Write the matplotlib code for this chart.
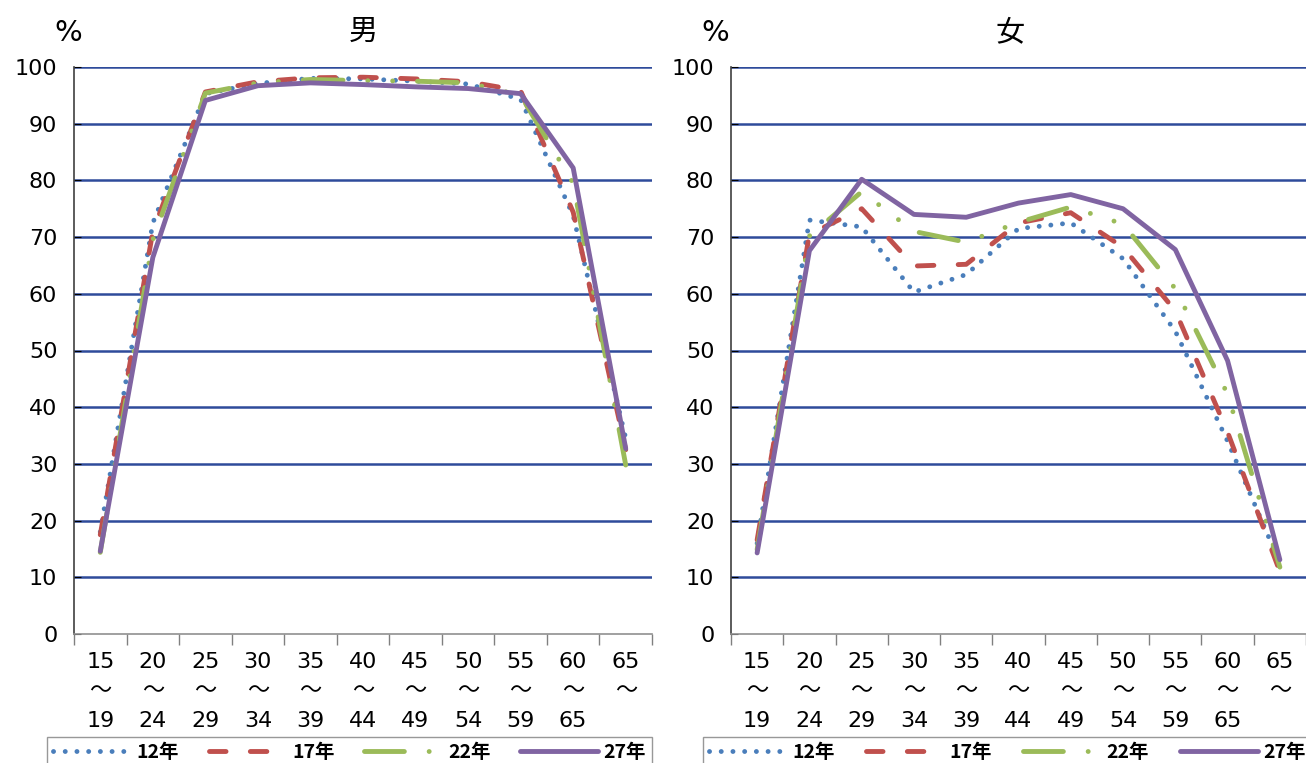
import matplotlib

matplotlib.use("Agg")
import matplotlib.pyplot as plt
from matplotlib.lines import Line2D

plt.rcParams["font.family"] = ["Noto Sans CJK JP", "DejaVu Sans"]

# age groups (x axis)
AGE_FROM = ["15", "20", "25", "30", "35", "40", "45", "50", "55", "60", "65"]
AGE_TO = ["19", "24", "29", "34", "39", "44", "49", "54", "59", "65", ""]

YEARS = ["12年", "17年", "22年", "27年"]

# 男 (%)
MALE_12 = [18.0, 72.5, 95.3, 97.1, 98.0, 97.9, 97.5, 97.0, 94.3, 73.8, 34.5]
MALE_17 = [17.5, 71.0, 95.6, 97.4, 98.1, 98.2, 97.9, 97.4, 95.8, 74.4, 32.5]
MALE_22 = [14.4, 69.5, 95.4, 97.2, 97.8, 97.6, 97.5, 97.2, 95.0, 79.5, 29.8]
MALE_27 = [14.6, 66.4, 94.1, 96.7, 97.2, 96.9, 96.5, 96.2, 95.3, 82.2, 32.7]

# 女 (%)
FEMALE_12 = [16.0, 73.0, 71.8, 60.3, 63.4, 71.5, 72.5, 66.2, 53.4, 34.0, 12.5]
FEMALE_17 = [16.6, 70.5, 75.0, 64.9, 65.2, 72.5, 74.3, 68.2, 57.0, 35.6, 11.0]
FEMALE_22 = [14.9, 70.2, 78.0, 71.0, 69.1, 72.6, 75.3, 72.3, 60.9, 42.3, 11.8]
FEMALE_27 = [14.3, 67.6, 80.2, 74.0, 73.5, 76.0, 77.5, 75.0, 67.8, 48.2, 13.1]

LW = 3.5
STYLES = [
    dict(color="#4A7EBB", linestyle=(0, (0.01, 2.4)), dash_capstyle="round"),
    dict(color="#C0504D", linestyle=(0, (3.4, 5.0)), dash_capstyle="round"),
    dict(color="#9BBB59", linestyle=(0, (8.2, 5.1, 0.01, 5.1, 0.01, 5.1)),
         dash_capstyle="round"),
    dict(color="#8064A2", linestyle="-", solid_capstyle="round"),
]
GRID = "#2E4B9B"
TICK_FONT = ["DejaVu Sans", "Noto Sans CJK JP"]

W, H = 1306, 763


def draw_panel(ax, series, title, pct_x, title_x):
    for vals, st in zip(series, STYLES):
        ax.plot(range(len(vals)), vals, lw=LW, solid_joinstyle="round", **st)

    ax.set_xlim(-0.5, len(AGE_FROM) - 0.5)
    ax.set_ylim(0, 100)
    ax.set_yticks(range(0, 101, 10))
    for y in range(10, 101, 10):
        ax.axhline(y, color=GRID, lw=1.8, zorder=0)

    ax.set_xticks(range(len(AGE_FROM)))
    ax.set_xticklabels([f"{a}\n～\n{b}" for a, b in zip(AGE_FROM, AGE_TO)],
                       linespacing=1.6, va="top")
    ax.set_xticks([i + 0.5 for i in range(-1, len(AGE_FROM))], minor=True)
    ax.tick_params(axis="x", which="major", length=0, pad=13)
    ax.tick_params(axis="x", which="minor", length=8, direction="out",
                   color="#808080", width=1)
    ax.tick_params(axis="y", length=5, direction="in", color="black", pad=12)
    for lab in ax.get_xticklabels() + ax.get_yticklabels():
        lab.set_family(TICK_FONT)
        lab.set_fontsize(16)

    for s in ("top", "right"):
        ax.spines[s].set_visible(False)
    ax.spines["left"].set_color("#404040")
    ax.spines["bottom"].set_color("#909090")
    ax.spines["left"].set_linewidth(1.2)
    ax.spines["bottom"].set_linewidth(1.2)

    fig = ax.figure
    fig.text(pct_x / W, 1 - 33 / H, "%", ha="center", va="center",
             fontsize=21, family=TICK_FONT)
    fig.text(title_x / W, 1 - 32 / H, title, ha="center", va="center", fontsize=21)


def add_legend(ax, x0, x1):
    handles = [Line2D([], [], lw=LW, **st) for st in STYLES]
    leg = ax.legend(
        handles, YEARS, ncol=4, loc="upper left", mode="expand",
        bbox_to_anchor=(x0 / W, 1 - 737 / H - 0.05, (x1 - x0) / W, 0.05),
        bbox_transform=ax.figure.transFigure,
        frameon=True, fancybox=False, edgecolor="#7F7F7F",
        prop=dict(size=14, weight="bold"), handlelength=4.0, handletextpad=0.3,
        borderaxespad=0, borderpad=0.3, columnspacing=1.0,
    )
    leg.get_frame().set_linewidth(1.0)
    leg.set_clip_on(False)


fig = plt.figure(figsize=(W / 100, H / 100), dpi=100, facecolor="white")
ax_m = fig.add_axes([74 / W, 1 - 634 / H, 578 / W, 567 / H])
ax_f = fig.add_axes([731 / W, 1 - 634 / H, 575 / W, 567 / H])

draw_panel(ax_m, [MALE_12, MALE_17, MALE_22, MALE_27], "男", 68, 363)
draw_panel(ax_f, [FEMALE_12, FEMALE_17, FEMALE_22, FEMALE_27], "女", 715, 1010)
add_legend(ax_m, 47, 652)
add_legend(ax_f, 703, 1312)

fig.savefig("out.png", dpi=100, facecolor="white")
